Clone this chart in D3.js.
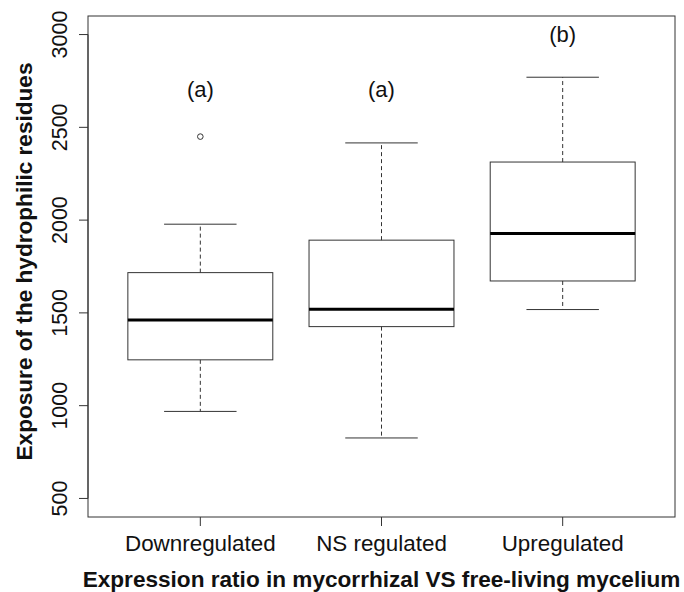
<!DOCTYPE html>
<html><head><meta charset="utf-8">
<script src="https://cdn.jsdelivr.net/npm/d3@7"></script>
<style>body{margin:0;background:#fff}svg{display:block}text{font-family:"Liberation Sans",Arial,sans-serif}</style>
</head><body>
<script>
const categories = ["Downregulated","NS regulated","Upregulated"];
const lowerWhisker = [969, 826, 1518];
const q1 = [1247, 1426, 1672];
const median = [1462, 1520, 1928];
const q3 = [1717, 1892, 2313];
const upperWhisker = [1978, 2416, 2770];
const outliers = [[2450], [], []];
const letters = ["(a)","(a)","(b)"];
const letterY = [2700, 2700, 3000];
const yTicks = [500,1000,1500,2000,2500,3000];

const W=684,H=592;
const m={l:88,r:9,t:16,b:75};
const svg=d3.select("body").append("svg").attr("width",W).attr("height",H);
const x=d3.scaleLinear().domain([0.38,3.62]).range([m.l,W-m.r]);
const y=d3.scaleLinear().domain([400,3100]).range([H-m.b,m.t]);
const col="#333";
const unit=x(1)-x(0);
const bw=0.8*unit, cw=0.4*unit;

const data=categories.map((c,i)=>({c,i:i+1,lo:lowerWhisker[i],q1:q1[i],md:median[i],q3:q3[i],hi:upperWhisker[i],out:outliers[i],lt:letters[i],ly:letterY[i]}));

const g=svg.append("g");
const bx=g.selectAll("g.box").data(data).join("g");
bx.append("line").attr("x1",d=>x(d.i)).attr("x2",d=>x(d.i)).attr("y1",d=>y(d.q3)).attr("y2",d=>y(d.hi)).attr("stroke",col).attr("stroke-dasharray","4,3");
bx.append("line").attr("x1",d=>x(d.i)).attr("x2",d=>x(d.i)).attr("y1",d=>y(d.q1)).attr("y2",d=>y(d.lo)).attr("stroke",col).attr("stroke-dasharray","4,3");
bx.append("line").attr("x1",d=>x(d.i)-cw/2).attr("x2",d=>x(d.i)+cw/2).attr("y1",d=>y(d.hi)).attr("y2",d=>y(d.hi)).attr("stroke",col);
bx.append("line").attr("x1",d=>x(d.i)-cw/2).attr("x2",d=>x(d.i)+cw/2).attr("y1",d=>y(d.lo)).attr("y2",d=>y(d.lo)).attr("stroke",col);
bx.append("rect").attr("x",d=>x(d.i)-bw/2).attr("width",bw).attr("y",d=>y(d.q3)).attr("height",d=>y(d.q1)-y(d.q3)).attr("fill","none").attr("stroke",col);
bx.append("line").attr("x1",d=>x(d.i)-bw/2).attr("x2",d=>x(d.i)+bw/2).attr("y1",d=>y(d.md)).attr("y2",d=>y(d.md)).attr("stroke","#000").attr("stroke-width",3);
bx.selectAll("circle").data(d=>d.out.map(v=>({i:d.i,v}))).join("circle").attr("cx",d=>x(d.i)).attr("cy",d=>y(d.v)).attr("r",2.8).attr("fill","none").attr("stroke",col);
bx.append("text").attr("x",d=>x(d.i)).attr("y",d=>y(d.ly)+7).attr("text-anchor","middle").attr("font-size",22).attr("fill","#111").text(d=>d.lt);

svg.append("rect").attr("x",m.l).attr("y",m.t).attr("width",W-m.r-m.l).attr("height",H-m.b-m.t).attr("fill","none").attr("stroke",col);

const ya=svg.append("g");
ya.append("line").attr("x1",m.l).attr("x2",m.l).attr("y1",y(500)).attr("y2",y(3000)).attr("stroke",col);
ya.selectAll("line.t").data(yTicks).join("line").attr("class","t").attr("x1",m.l-9).attr("x2",m.l).attr("y1",d=>y(d)).attr("y2",d=>y(d)).attr("stroke",col);
ya.selectAll("text").data(yTicks).join("text").attr("transform",d=>`translate(66.5,${y(d)}) rotate(-90)`).attr("text-anchor","middle").attr("font-size",21.5).attr("fill","#111").text(d=>d);

const xa=svg.append("g");
xa.selectAll("line").data(data).join("line").attr("x1",d=>x(d.i)).attr("x2",d=>x(d.i)).attr("y1",H-m.b).attr("y2",H-m.b+9).attr("stroke",col);
xa.selectAll("text").data(data).join("text").attr("x",d=>x(d.i)).attr("y",550.5).attr("text-anchor","middle").attr("font-size",22.4).attr("fill","#111").text(d=>d.c);

svg.append("text").attr("x",(m.l+W-m.r)/2).attr("y",586.5).attr("text-anchor","middle").attr("font-size",22.6).attr("font-weight","bold").attr("fill","#111").text("Expression ratio in mycorrhizal VS free-living mycelium");
svg.append("text").attr("transform",`translate(31.5,${(m.t+H-m.b)/2-5}) rotate(-90)`).attr("text-anchor","middle").attr("font-size",22.6).attr("font-weight","bold").attr("fill","#111").text("Exposure of the hydrophilic residues");
</script>
</body></html>
